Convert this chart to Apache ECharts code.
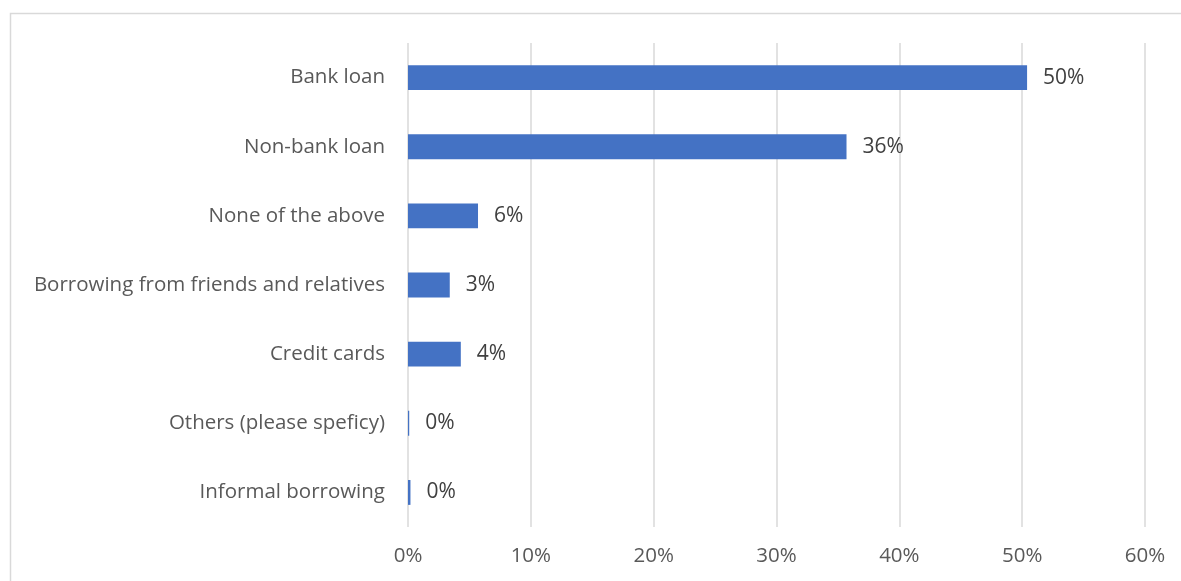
<!DOCTYPE html>
<html>
<head>
<meta charset="utf-8">
<script src="https://cdn.jsdelivr.net/npm/echarts@6/dist/echarts.min.js"></script>
<style>
  html, body { margin: 0; padding: 0; background: #fff; }
  #chart { width: 1181px; height: 581px; }
</style>
</head>
<body>
<div id="chart"></div>
<script>
// Financing sources, listed top to bottom
const categories = [
  'Bank loan',
  'Non-bank loan',
  'None of the above',
  'Borrowing from friends and relatives',
  'Credit cards',
  'Others (please speficy)',
  'Informal borrowing'
];
// Share of respondents (%)
const shares = [50.4, 35.7, 5.7, 3.4, 4.3, 0.1, 0.2];
const xTicks = [0, 10, 20, 30, 40, 50, 60];

const font = '"Open Sans", "Noto Sans", sans-serif';
const chart = echarts.init(document.getElementById('chart'));

chart.setOption({
  animation: false,
  graphic: [{
    type: 'rect',
    shape: { x: 10.5, y: 13.5, width: 1200, height: 600 },
    style: { fill: 'none', stroke: '#d9d9d9', lineWidth: 1.5 },
    silent: true
  }],
  grid: { left: 408, top: 43, width: 737, height: 484, containLabel: false },
  xAxis: {
    type: 'value',
    min: xTicks[0],
    max: xTicks[xTicks.length - 1],
    interval: 10,
    axisLine: { show: false },
    axisTick: { show: false },
    splitLine: { lineStyle: { color: '#d9d9d9', width: 1.5 } },
    axisLabel: {
      margin: 19,
      color: '#595959',
      fontFamily: font,
      fontSize: 20.5,
      formatter: v => v + '%'
    }
  },
  yAxis: {
    type: 'category',
    data: categories,
    inverse: true,
    axisLine: { show: false },
    axisTick: { show: false },
    axisLabel: {
      margin: 23,
      color: '#595959',
      fontFamily: font,
      fontSize: 20.5
    }
  },
  series: [{
    type: 'bar',
    data: shares,
    barCategoryGap: '64%',
    itemStyle: { color: '#4472C4' },
    label: {
      show: true,
      position: 'right',
      distance: 16,
      color: '#404040',
      fontFamily: font,
      fontSize: 21,
      formatter: p => Math.round(p.value) + '%'
    }
  }]
});
</script>
</body>
</html>
